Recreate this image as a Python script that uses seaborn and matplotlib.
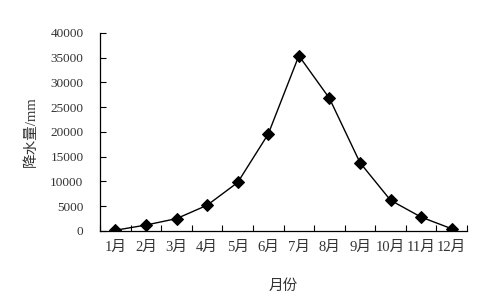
import numpy as np
import pandas as pd
import matplotlib
matplotlib.use("Agg")
import matplotlib.pyplot as plt
from matplotlib.ticker import FixedLocator
import seaborn as sns

sns.set_style("white")
plt.rcParams["font.family"] = ["Liberation Serif", "Noto Sans CJK SC"]
plt.rcParams["axes.unicode_minus"] = False

MONTHS = ["1月", "2月", "3月", "4月", "5月", "6月",
          "7月", "8月", "9月", "10月", "11月", "12月"]
RAIN = [150, 1200, 2500, 5200, 9800, 19600,
        35400, 26800, 13800, 6200, 2800, 450]

df = pd.DataFrame({"month": MONTHS, "rain": RAIN})

TXT = "#333333"

fig = plt.figure(figsize=(4.79, 3.07), dpi=100)
ax = fig.add_axes([0.209, 0.2476, 0.766, 0.645])

sns.lineplot(data=df, x="month", y="rain", ax=ax, sort=False,
             color="black", lw=1.0, marker="D", markersize=6.5,
             markeredgecolor="black", markerfacecolor="black")

ax.set_xlim(-0.5, len(MONTHS) - 0.5)
ax.set_ylim(0, 40000)
ax.set_yticks(np.arange(0, 40001, 5000))
ax.set_yticklabels([f"{v}" for v in range(0, 40001, 5000)])

# category boundaries carry the tick marks, labels sit at the centres
ax.xaxis.set_minor_locator(FixedLocator(np.arange(-0.5, len(MONTHS), 1.0)))
ax.set_xticks(range(len(MONTHS)))
ax.set_xticklabels(MONTHS)
ax.tick_params(axis="x", which="major", length=0, pad=7,
               labelsize=10.5, labelcolor=TXT)
ax.tick_params(axis="x", which="minor", direction="in", length=4,
               width=0.8, color="black", bottom=True)
ax.tick_params(axis="y", direction="in", length=4, width=0.8,
               color="black", pad=12, labelsize=9.5, labelcolor=TXT, left=True)

for s in ["top", "right"]:
    ax.spines[s].set_visible(False)
for s in ["left", "bottom"]:
    ax.spines[s].set_color("black")
    ax.spines[s].set_linewidth(0.9)

ax.set_xlabel("月份", fontsize=10.5, color=TXT, labelpad=18)
ax.set_ylabel("降水量/mm", fontsize=10.5, color=TXT, labelpad=9)

fig.savefig("out.png", dpi=100)
